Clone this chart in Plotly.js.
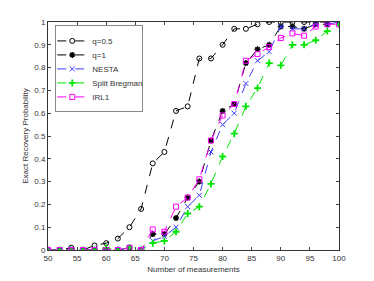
<!DOCTYPE html>
<html>
<head>
<meta charset="utf-8">
<script src="https://cdn.plot.ly/plotly-3.0.1.min.js"></script>
<style>html,body{margin:0;padding:0;background:#fff;}#chart{width:374px;height:281px;}</style>
</head>
<body>
<div id="chart"></div>
<script>
var measurements = [50,52,54,56,58,60,62,64,66,68,70,72,74,76,78,80,82,84,86,88,90,92,94,96,98,100];
var q05 =   [0,0,0.01,0,0.02,0.03,0.05,0.10,0.18,0.38,0.43,0.61,0.63,0.84,0.84,0.90,0.97,0.97,0.99,1.0,1.0,1.0,1.0,1.0,1.0,1.0];
var q1 =    [0,0,0,0,0,0,0,0.01,0,0.07,0.07,0.14,0.23,0.30,0.48,0.61,0.64,0.82,0.88,0.90,0.98,0.98,0.97,0.99,0.99,1.0];
var nesta = [0,0,0,0,0,0,0,0.01,0,0.04,0.06,0.10,0.19,0.24,0.43,0.55,0.60,0.73,0.83,0.87,0.98,0.97,0.97,0.99,0.99,1.0];
var splitBregman = [0,0,0,0,0,0.01,0,0.01,0,0.03,0.04,0.08,0.16,0.19,0.29,0.41,0.51,0.63,0.71,0.82,0.81,0.90,0.90,0.92,0.96,0.99];
var irl1 =  [0,0,0,0,0,0,0,0.01,0,0.09,0.08,0.19,0.23,0.31,0.48,0.59,0.64,0.83,0.86,0.89,0.93,0.95,0.94,0.98,0.99,0.99];
var seriesNames = ["q=0.5","q=1","NESTA","Split Bregman","IRL1"];

function tr(y, name, color, symbol, msize, mlw, mfill){
  return {x: measurements, y: y, name: name, type: "scatter", mode: "lines+markers",
    line: {color: color, width: 1, dash: "dash"},
    marker: {symbol: symbol, size: msize, color: mfill, line: {color: color, width: mlw}}};
}
var data = [
  tr(q05, seriesNames[0], "#000000", "circle-open", 5, 1, "#000000"),
  tr(q1, seriesNames[1], "#000000", "asterisk-open", 5, 1.5, "#000000"),
  tr(nesta, seriesNames[2], "#3b3bff", "x-thin-open", 5, 1, "#3b3bff"),
  tr(splitBregman, seriesNames[3], "#00e600", "cross-thin-open", 5, 1.8, "#00e600"),
  tr(irl1, seriesNames[4], "#ff00ff", "square-open", 5, 1, "#ff00ff")
];
var layout = {
  width: 374, height: 281,
  margin: {l: 48, r: 35, t: 22, b: 31},
  paper_bgcolor: "#ffffff", plot_bgcolor: "#ffffff",
  font: {family: "Liberation Sans, Arial, sans-serif", size: 8, color: "#333"},
  showlegend: true,
  legend: {x: 0.025, y: 0.985, xanchor: "left", yanchor: "top", bgcolor: "#ffffff",
    bordercolor: "#888", borderwidth: 1, font: {size: 8, color: "#333"},
    tracegroupgap: 0, itemwidth: 30},
  xaxis: {range: [50, 100], tickvals: [50,55,60,65,70,75,80,85,90,95,100],
    ticks: "inside", ticklen: 3, tickcolor: "#444", showgrid: false, zeroline: false,
    showline: true, mirror: "ticks", linecolor: "#333", linewidth: 1,
    title: {text: "Number of measurements", font: {size: 8, color: "#333"}, standoff: 4},
    tickfont: {size: 8, color: "#333"}},
  yaxis: {range: [0, 1], tickvals: [0,0.1,0.2,0.3,0.4,0.5,0.6,0.7,0.8,0.9,1],
    ticktext: ["0","0.1","0.2","0.3","0.4","0.5","0.6","0.7","0.8","0.9","1"],
    ticks: "inside", ticklen: 3, tickcolor: "#444", showgrid: false, zeroline: false,
    showline: true, mirror: "ticks", linecolor: "#333", linewidth: 1,
    title: {text: "Exact Recovery Probability", font: {size: 8, color: "#333"}, standoff: 4},
    tickfont: {size: 8, color: "#333"}}
};
Plotly.newPlot("chart", data, layout, {displayModeBar: false, staticPlot: true}).then(function(gd){
  try {
    var items = gd.querySelectorAll(".legend .traces");
    var step = 14, y0 = null, oldStep = null, prevY = null;
    items.forEach(function(el, i){
      var t = el.getAttribute("transform") || "";
      var m = /translate\(\s*([-\d.e]+)[ ,]\s*([-\d.e]+)\s*\)/.exec(t);
      if (!m) return;
      var x = parseFloat(m[1]), y = parseFloat(m[2]);
      if (i === 0) y0 = y;
      if (i === 1) oldStep = y - y0;
      el.setAttribute("transform", "translate(" + (x - 4) + "," + (y0 + i * step) + ")");
    });
    if (oldStep !== null) {
      var shrink = (items.length - 1) * (oldStep - step);
      var bg = gd.querySelector(".legend .bg");
      if (bg) {
        bg.setAttribute("height", parseFloat(bg.getAttribute("height")) - shrink);
        bg.setAttribute("width", parseFloat(bg.getAttribute("width")) - 10);
      }
    }
  } catch (e) {}
});
</script>
</body>
</html>
